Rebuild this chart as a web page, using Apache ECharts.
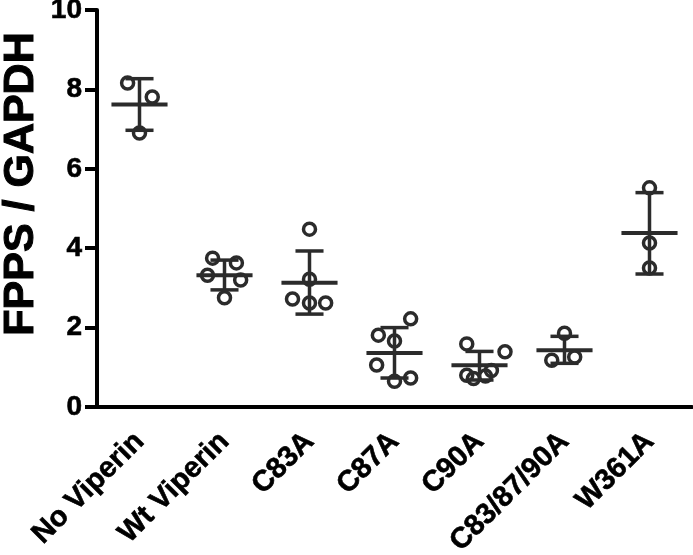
<!DOCTYPE html>
<html>
<head>
<meta charset="utf-8">
<script src="https://cdn.jsdelivr.net/npm/echarts@6/dist/echarts.min.js"></script>
<style>html,body{margin:0;padding:0;background:#fff;}#c{width:693px;height:555px;}</style>
</head>
<body>
<div id="c"></div>
<script>
const categories = ['No Viperin', 'Wt Viperin', 'C83A', 'C87A', 'C90A', 'C83/87/90A', 'W361A'];
const values = [
  [8.16, 7.81, 6.90],
  [3.75, 3.63, 3.32, 3.20, 2.75],
  [4.48, 3.22, 2.72, 2.62, 2.62],
  [2.22, 1.81, 1.66, 1.06, 0.65, 0.73],
  [1.59, 1.39, 0.80, 0.72, 0.78, 0.92],
  [1.86, 1.18, 1.26],
  [5.52, 4.13, 3.50]
];
const means = [7.62, 3.32, 3.13, 1.36, 1.05, 1.43, 4.38];
const sdUpper = [8.27, 3.70, 3.93, 2.00, 1.40, 1.78, 5.40];
const sdLower = [6.97, 2.95, 2.34, 0.73, 0.68, 1.10, 3.35];
const yTicks = { min: 0, max: 10, interval: 2 };
// horizontal scatter offsets, in category-band fractions (layout only)
const jitter = [
  [-0.14, 0.15, 0.0],
  [-0.14, 0.14, -0.2, 0.19, 0.0],
  [0.0, 0.0, -0.2, 0.0, 0.19],
  [0.19, -0.19, 0.0, -0.21, 0.0, 0.19],
  [-0.15, 0.3, -0.15, -0.07, 0.07, 0.14],
  [0.0, -0.15, 0.12],
  [0.0, 0.0, 0.0]
];

const markColor = '#2b2b2b';
const fontFam = '"Liberation Sans", Arial, sans-serif';
const pointData = [];
values.forEach((arr, i) => arr.forEach((v, j) => pointData.push([i, v, jitter[i][j]])));
const summaryData = means.map((m, i) => [i, m, sdUpper[i], sdLower[i]]);

const chart = echarts.init(document.getElementById('c'), null, { renderer: 'canvas' });
chart.setOption({
  animation: false,
  backgroundColor: '#fff',
  grid: { left: 97, right: 1, top: 10, bottom: 148, containLabel: false, outerBoundsMode: 'none' },
  xAxis: {
    type: 'category',
    data: categories,
    boundaryGap: true,
    axisLine: { lineStyle: { color: '#000', width: 4 } },
    axisTick: { alignWithLabel: true, length: 10, lineStyle: { color: '#000', width: 4 } },
    axisLabel: {
      rotate: 45, margin: 30, color: '#000', fontSize: 29, fontWeight: 'bold',
      fontFamily: fontFam, interval: 0, textBorderColor: '#000', textBorderWidth: 0.6
    }
  },
  yAxis: {
    type: 'value',
    min: yTicks.min, max: yTicks.max, interval: yTicks.interval,
    axisLine: { show: true, lineStyle: { color: '#000', width: 4 } },
    axisTick: { show: true, length: 12, lineStyle: { color: '#000', width: 4 } },
    axisLabel: { margin: 15, color: '#000', fontSize: 28, fontWeight: 'bold', fontFamily: fontFam,
      textBorderColor: '#000', textBorderWidth: 0.6 },
    splitLine: { show: false }
  },
  graphic: [{
    type: 'text', x: 21, y: 184, rotation: Math.PI / 2,
    style: {
      text: 'FPPS / GAPDH', fill: '#000', font: 'bold 43px ' + fontFam,
      textAlign: 'center', textVerticalAlign: 'middle', stroke: '#000', lineWidth: 1
    }
  }],
  series: [
    {
      type: 'custom',
      data: pointData,
      z: 3,
      renderItem: function (params, api) {
        const c = api.coord([api.value(0), api.value(1)]);
        const band = api.size([1, 0])[0];
        return {
          type: 'circle',
          shape: { cx: c[0] + api.value(2) * band, cy: c[1], r: 6 },
          style: { fill: 'none', stroke: markColor, lineWidth: 3.5 }
        };
      }
    },
    {
      type: 'custom',
      data: summaryData,
      z: 4,
      renderItem: function (params, api) {
        const i = api.value(0);
        const m = api.coord([i, api.value(1)]);
        const up = api.coord([i, api.value(2)]);
        const lo = api.coord([i, api.value(3)]);
        const band = api.size([1, 0])[0];
        const mw = band * 0.33, cw = band * 0.165;
        const ls = { stroke: markColor, lineWidth: 3.5 };
        return {
          type: 'group',
          children: [
            { type: 'line', shape: { x1: m[0] - mw, y1: m[1], x2: m[0] + mw, y2: m[1] }, style: { stroke: markColor, lineWidth: 4 } },
            { type: 'line', shape: { x1: m[0], y1: up[1], x2: m[0], y2: lo[1] }, style: ls },
            { type: 'line', shape: { x1: m[0] - cw, y1: up[1], x2: m[0] + cw, y2: up[1] }, style: ls },
            { type: 'line', shape: { x1: m[0] - cw, y1: lo[1], x2: m[0] + cw, y2: lo[1] }, style: ls }
          ]
        };
      }
    }
  ]
});
</script>
</body>
</html>
